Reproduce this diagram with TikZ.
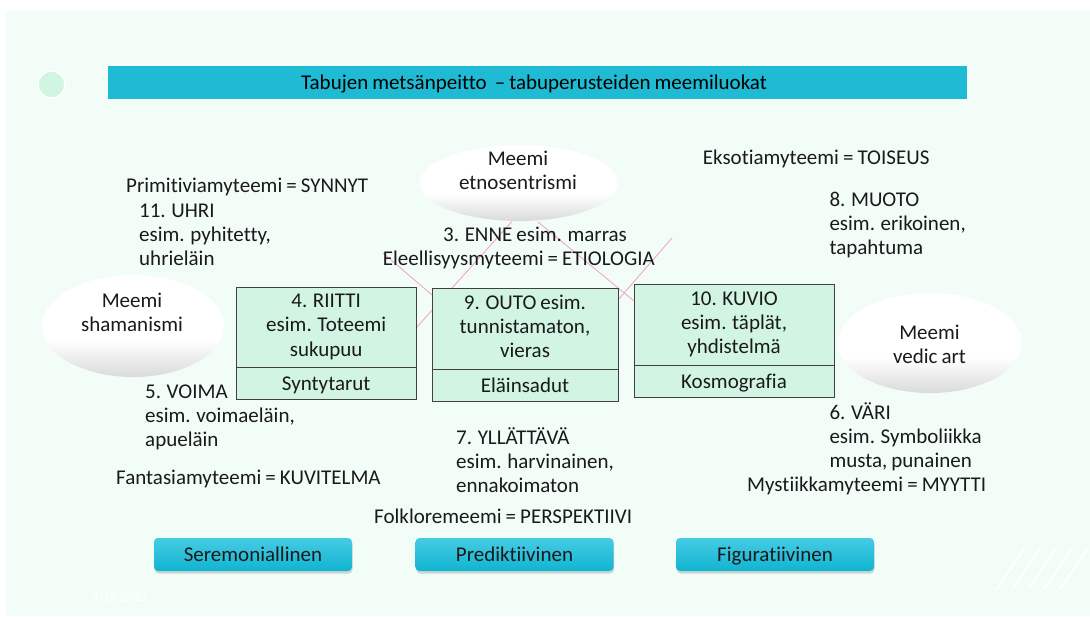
\documentclass[tikz,border=0pt]{standalone}
\usepackage{fontspec}
\setmainfont{Carlito}[Ligatures={NoCommon}, WordSpace=0.85]
\usetikzlibrary{shapes.geometric,shadows}

\definecolor{page}{RGB}{242,253,247}
\definecolor{ink}{RGB}{26,26,26}
\definecolor{barcyan}{RGB}{31,187,212}
\definecolor{boxfill}{RGB}{209,245,226}
\definecolor{boxline}{RGB}{64,64,64}
\definecolor{pinkline}{RGB}{242,160,196}
\definecolor{dotgreen}{RGB}{208,245,224}
\definecolor{btntop}{RGB}{70,203,228}
\definecolor{btnbot}{RGB}{16,180,208}
\definecolor{memegray}{RGB}{218,218,218}

% white ellipse, greying towards its lower edge
\pgfdeclareverticalshading{memeshade}{100bp}{color(0bp)=(memegray); color(25bp)=(memegray); color(43bp)=(white); color(100bp)=(white)}

% stacked lines whose baseline is the first line's baseline
\newcommand\stackl[1]{\begin{tabular}[t]{@{}l@{}}#1\end{tabular}}
\newcommand\stackc[1]{\begin{tabular}[t]{@{}c@{}}#1\end{tabular}}

\tikzset{
  body/.style={font=\fontsize{21}{24.2}\selectfont, text=ink, inner sep=0pt},
  txt/.style={body, anchor=base west},
  meme/.style={ellipse, draw=none, inner sep=0pt, shading=memeshade},
  upperbox/.style={body, draw=boxline, fill=boxfill, line width=0.9pt, minimum height=81pt},
  lowerbox/.style={body, draw=boxline, fill=boxfill, line width=0.9pt, minimum height=32pt, anchor=north,
    text height=16pt, text depth=2pt},
  btn/.style={body, rounded corners=4pt, minimum width=198pt, minimum height=33pt, text height=15pt, text depth=2pt,
    top color=btntop, bottom color=btnbot, drop shadow={shadow xshift=0.6pt, shadow yshift=-2.5pt, opacity=0.3}},
  trace/.style={draw=pinkline, line width=0.8pt}
}

\begin{document}
\begin{tikzpicture}[x=1pt,y=-1pt]
\useasboundingbox (0,0) rectangle (1090,616);
\fill[white] (0,0) rectangle (1090,616);
\fill[page] (6,11) rectangle (1090,616);

% heading
\node[circle, fill=dotgreen, draw=white, line width=1.6pt, minimum size=27pt, inner sep=0pt] (dot) at (51.5,84.5) {};
\node[fill=barcyan, minimum width=859pt, minimum height=33pt, inner sep=0pt] (titlebar) at (537.5,82.5) {};
\node[body, anchor=base, text=black] (title) at (534,89) {Tabujen metsänpeitto\ \ – tabuperusteiden meemiluokat};

% thin pink traces
\coordinate (a1) at (511.7,221.7); \coordinate (a2) at (408,337);
\coordinate (d1) at (383,253);     \coordinate (d2) at (432,295);
\coordinate (b1) at (538,222);     \coordinate (b2) at (634,301);
\coordinate (c1) at (672,238);     \coordinate (c2) at (618,300);
\draw[trace] (a1) -- (a2);
\draw[trace] (d1) -- (d2);
\draw[trace] (b1) -- (b2);
\draw[trace] (c1) -- (c2);

% meme ellipses
\node[meme, minimum width=198pt, minimum height=76pt] (etno) at (519,183) {};
\node[meme, minimum width=182pt, minimum height=102pt] (shaman) at (133,326) {};
\node[meme, minimum width=184pt, minimum height=100pt] (vedic) at (930,343) {};
\node[body, anchor=base] (etnotxt) at (518,165) {\stackc{Meemi\\etnosentrismi}};
\node[body, anchor=base] (shamantxt) at (132,307.3) {\stackc{Meemi\\shamanismi}};
\node[body, anchor=base] (vedictxt) at (929.5,339) {\stackc{Meemi\\vedic art}};

% category boxes
\node[upperbox, minimum width=180pt, minimum height=80pt] (riitti) at (326.2,327) {\stackc{4. RIITTI\\esim. Toteemi\\sukupuu}};
\node[lowerbox, minimum width=180pt] (synty) at (riitti.south) {Syntytarut};
\node[upperbox, minimum width=186pt] (outo) at (525,328.5) {\stackc{9. OUTO esim.\\tunnistamaton,\\vieras}};
\node[lowerbox, minimum width=186pt] (elain) at (outo.south) {Eläinsadut};
\node[upperbox, minimum width=200pt] (kuvio) at (734,324.5) {\stackc{10. KUVIO\\esim. täplät,\\yhdistelmä}};
\node[lowerbox, minimum width=200pt] (kosmo) at (kuvio.south) {Kosmografia};

% free labels
\node[txt] (primi) at (126,192) {Primitiviamyteemi = SYNNYT};
\node[txt] (uhri) at (139,217) {\stackl{11. UHRI\\esim. pyhitetty,\\uhrieläin}};
\node[txt] (enne) at (443,241.7) {3. ENNE esim. marras};
\node[txt] (eleel) at (382.7,265) {Eleellisyysmyteemi = ETIOLOGIA};
\node[txt] (ekso) at (702.7,164) {Eksotiamyteemi = TOISEUS};
\node[txt] (muoto) at (829.3,206) {\stackl{8. MUOTO\\esim. erikoinen,\\tapahtuma}};
\node[txt] (voima) at (145,398.3) {\stackl{5. VOIMA\\esim. voimaeläin,\\apueläin}};
\node[txt] (fanta) at (116,484) {Fantasiamyteemi = KUVITELMA};
\node[txt] (yllat) at (456,444.3) {\stackl{7. YLLÄTTÄVÄ\\esim. harvinainen,\\ennakoimaton}};
\node[txt] (folk) at (374,523.3) {Folkloremeemi = PERSPEKTIIVI};
\node[txt] (vari) at (829.3,419.3) {\stackl{6. VÄRI\\esim. Symboliikka\\musta, punainen}};
\node[txt] (myst) at (747,491.7) {Mystiikkamyteemi = MYYTTI};

% perspective buttons
\node[btn] (sere) at (253,554.5) {Seremoniallinen};
\node[btn] (predi) at (514.5,554.5) {Prediktiivinen};
\node[btn] (figu) at (775,554.5) {Figuratiivinen};

% footer
\node[anchor=base west, inner sep=0pt, text=white, font=\fontsize{12.5}{15}\selectfont\bfseries] (date) at (92,601) {3/18/2021};
\foreach \i in {0,...,4}
  \draw[white, line width=2.4pt, line cap=round] (997+15.8*\i,589) -- (1024.3+15.8*\i,548.3);
\end{tikzpicture}
\end{document}
